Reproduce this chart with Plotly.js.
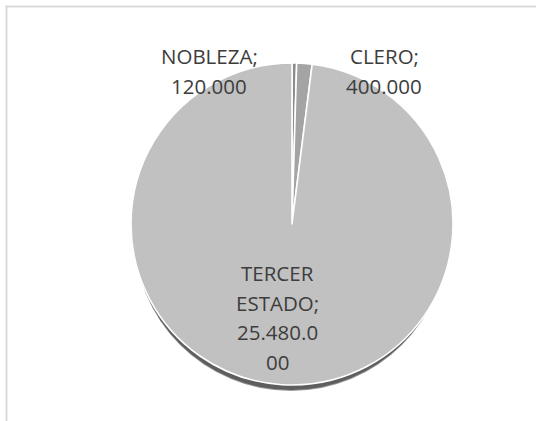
<!DOCTYPE html>
<html>
<head>
<meta charset="utf-8">
<script src="https://cdn.plot.ly/plotly-3.0.1.min.js"></script>
<style>html,body{margin:0;padding:0;background:#fff;}#chart{width:536px;height:421px;}</style>
</head>
<body>
<div id="chart"></div>
<script>
// ---- data ----
const categories = ["NOBLEZA", "CLERO", "TERCER ESTADO"];
const values = [120000, 400000, 25480000];
const sliceColors = ["#8c8c8c", "#a4a4a4", "#c1c1c1"];

// ---- helpers ----
function fmt(v) { return String(v).replace(/\B(?=(\d{3})+(?!\d))/g, "."); }
function wrap(text, maxChars) {
  const words = text.split(" ");
  const lines = [];
  let cur = "";
  words.forEach(w => {
    const cand = cur ? cur + " " + w : w;
    if (cand.length <= maxChars) { cur = cand; return; }
    if (cur) lines.push(cur);
    cur = "";
    while (w.length > maxChars) { lines.push(w.slice(0, maxChars)); w = w.slice(maxChars); }
    cur = w;
  });
  if (cur) lines.push(cur);
  return lines;
}

const W = 536, H = 421;
const cx = 292, cy = 224, R = 161;
const px = x => x / W;
const py = y => 1 - y / H;

// label anchor (center of first line) & line spacing, in pixels
const labelPos = [[209, 56], [384, 56], [277, 273]];
const lineGap = 29.5;
const font = { family: "Open Sans, Noto Sans, sans-serif", size: 20.5, color: "#3d3d3d" };

const annotations = [];
categories.forEach((c, i) => {
  const lines = wrap(c + "; " + fmt(values[i]), 8);
  lines.forEach((ln, k) => {
    annotations.push({
      text: ln, xref: "paper", yref: "paper",
      x: px(labelPos[i][0]), y: py(labelPos[i][1] + k * lineGap),
      xanchor: "center", yanchor: "middle", showarrow: false, font: font
    });
  });
});

const trace = {
  type: "pie",
  labels: categories,
  values: values,
  sort: false,
  direction: "clockwise",
  rotation: 0,
  textinfo: "none",
  hoverinfo: "label+value",
  marker: { colors: sliceColors, line: { color: "#ffffff", width: 1.6 } },
  domain: { x: [px(cx - R), px(cx + R)], y: [1 - (cy + R) / H, 1 - (cy - R) / H] },
  showlegend: false
};

function shadowCircle(dx, dy, r, color) {
  return { type: "circle", layer: "below", xref: "paper", yref: "paper",
    x0: px(cx + dx - r), x1: px(cx + dx + r), y0: py(cy + dy + r), y1: py(cy + dy - r),
    fillcolor: color, line: { width: 0 } };
}

const shapes = [
  shadowCircle(-1, 10, R - 4, "#9a9a9a"),
  shadowCircle(-1, 9, R - 4, "#5e5e5e"),
  // chart-area border (extends past the right and bottom edges)
  { type: "rect", layer: "above", xref: "paper", yref: "paper",
    x0: px(6.5), x1: 1.1, y0: -0.1, y1: py(6.5),
    fillcolor: "rgba(0,0,0,0)", line: { color: "#d9d9d9", width: 2 } }
];

const layout = {
  width: W, height: H,
  margin: { l: 0, r: 0, t: 0, b: 0 },
  paper_bgcolor: "#ffffff",
  showlegend: false,
  annotations: annotations,
  shapes: shapes
};

Plotly.newPlot("chart", [trace], layout, { displayModeBar: false, staticPlot: true });
</script>
</body>
</html>
